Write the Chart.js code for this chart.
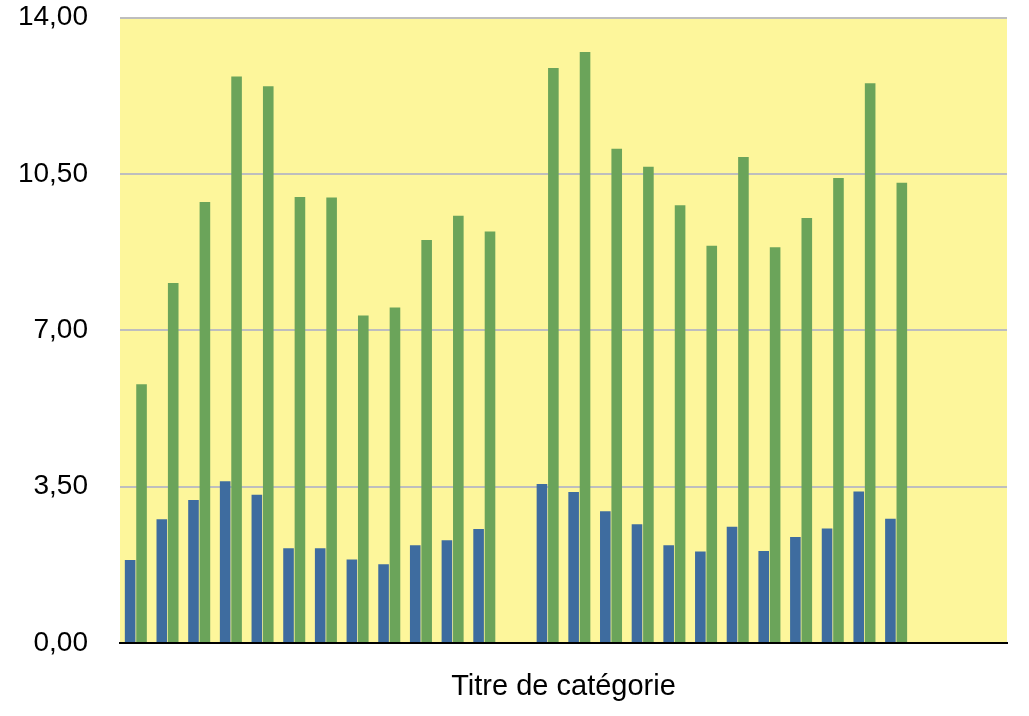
<!DOCTYPE html>
<html>
<head>
<meta charset="utf-8">
<script src="https://cdn.jsdelivr.net/npm/chart.js@4/dist/chart.umd.min.js"></script>
<style>
  html, body { margin: 0; padding: 0; background: #ffffff; }
  #wrap { width: 1029px; height: 716px; }
</style>
</head>
<body>
<div id="wrap"><canvas id="chart" width="1029" height="716"></canvas></div>
<script>
// Categories (labels are not shown on the axis); empty slots have no values
const categories = ['1','2','3','4','5','6','7','8','9','10','11','12','13','14',
                    '15','16','17','18','19','20','21','22','23','24','25','26','27','28'];

const seriesBlue = [1.86, 2.77, 3.20, 3.62, 3.32, 2.12, 2.12, 1.87, 1.76, 2.19, 2.30, 2.55, null,
                    3.56, 3.38, 2.95, 2.66, 2.19, 2.05, 2.60, 2.06, 2.37, 2.56, 3.39, 2.78, null, null, null];

const seriesGreen = [5.79, 8.06, 9.87, 12.68, 12.46, 9.98, 9.97, 7.33, 7.51, 9.02, 9.56, 9.21, null,
                     12.87, 13.23, 11.06, 10.66, 9.80, 8.89, 10.88, 8.86, 9.51, 10.41, 12.53, 10.30, null, null, null];

const yTicks = [0, 3.5, 7, 10.5, 14];

const FONT = '"Liberation Sans", Arial, Helvetica, sans-serif';

// Fill the plotting area with the pale yellow background
const plotBackground = {
  id: 'plotBackground',
  beforeDraw(chart) {
    const { ctx, chartArea: a } = chart;
    ctx.save();
    ctx.fillStyle = '#fdf69b';
    ctx.fillRect(a.left, a.top, a.right - a.left, a.bottom - a.top);
    ctx.restore();
  }
};

new Chart(document.getElementById('chart'), {
  type: 'bar',
  data: {
    labels: categories,
    datasets: [
      { label: 'Série 1', data: seriesBlue, backgroundColor: '#3e6c9f' },
      { label: 'Série 2', data: seriesGreen, backgroundColor: '#6ba45a' }
    ]
  },
  options: {
    responsive: false,
    animation: false,
    events: [],
    categoryPercentage: 0.72,
    barPercentage: 0.93,
    layout: { autoPadding: false, padding: { top: 17.5, right: 22, bottom: 0, left: 0 } },
    plugins: { legend: { display: false }, tooltip: { enabled: false } },
    scales: {
      x: {
        grid: { display: false, drawTicks: false },
        border: { display: true, color: '#000000', width: 2 },
        ticks: { display: false },
        title: {
          display: true,
          text: 'Titre de catégorie',
          color: '#000000',
          font: { family: FONT, size: 29 },
          padding: { top: 0, bottom: 12 }
        },
        afterFit(scale) { scale.height = 73; }
      },
      y: {
        min: 0,
        max: 14,
        afterBuildTicks(scale) { scale.ticks = yTicks.map(v => ({ value: v })); },
        // invisible tick marks keep the labels clear of the plot edge
        grid: { color: '#bebebe', lineWidth: 2, drawTicks: true, tickLength: 32, tickColor: 'rgba(0,0,0,0)' },
        border: { display: false },
        ticks: {
          color: '#000000',
          padding: 0,
          font: { family: FONT, size: 28 },
          callback: v => Number(v).toFixed(2).replace('.', ',')
        },
        afterFit(scale) { scale.width = 120; }
      }
    }
  },
  plugins: [plotBackground]
});
</script>
</body>
</html>
